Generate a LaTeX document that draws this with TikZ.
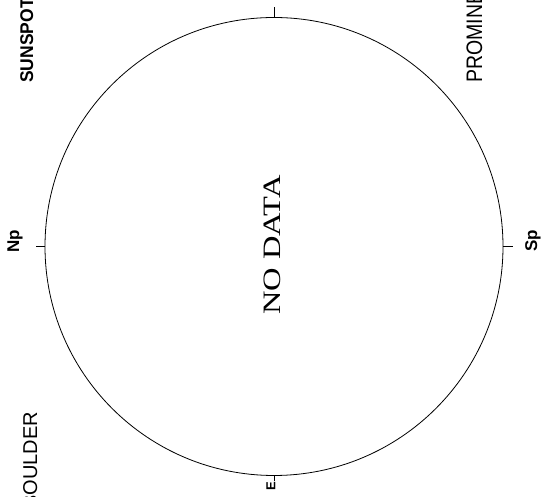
\documentclass[tikz,border=0pt]{standalone}
\usepackage{fontspec}
\setmainfont{Liberation Serif}
\setsansfont{Liberation Sans}
\usepackage{tikz}

\begin{document}
\begin{tikzpicture}[x=1pt,y=1pt,
  rim/.style={draw=black,line width=0.8pt},
  sidelabel/.style={rotate=90,inner sep=0pt,text=black}]
\useasboundingbox (0,0) rectangle (552,497);
\clip (0,0) rectangle (552,497);
% disk and limb ticks
\node[circle,rim,minimum size=458pt,inner sep=0pt,outer sep=0pt] (disk) at (274,250.5) {};
\draw[rim] (disk.north) -- ++(0,10) coordinate (wtick);
\draw[rim] (disk.south) -- ++(0,-6) coordinate (etick);
\draw[rim] (disk.west) -- ++(-9,0) coordinate (ntick);
\draw[rim] (disk.east) -- ++(10,0) coordinate (stick);
% limb labels
\node[sidelabel,font=\sffamily\bfseries\fontsize{17}{20}\selectfont] (np) at (15,256) {Np};
\node[sidelabel,font=\sffamily\bfseries\fontsize{17}{20}\selectfont] (sp) at (533,256) {Sp};
\node[sidelabel,font=\sffamily\bfseries\fontsize{13}{15}\selectfont] (east) at (271,11) {E};
% corner labels
\node[sidelabel,anchor=base west,font=\sffamily\bfseries\fontsize{17.5}{20}\selectfont] (sunspot) at (33,414) {\scalebox{1}[1.05]{SUNSPOT}};
\node[sidelabel,anchor=base west,font=\sffamily\fontsize{19.5}{23}\selectfont] (prom) at (482,414) {\scalebox{1}[1.15]{PROMINENCE}};
\node[sidelabel,anchor=base east,font=\sffamily\fontsize{20}{23}\selectfont] (boulder) at (37,85) {BOULDER};
% centre text
\node[sidelabel,font=\fontsize{25}{29}\selectfont] (nodata) at (272,252) {\scalebox{1.3}[1]{NO DATA}};
\end{tikzpicture}
\end{document}
